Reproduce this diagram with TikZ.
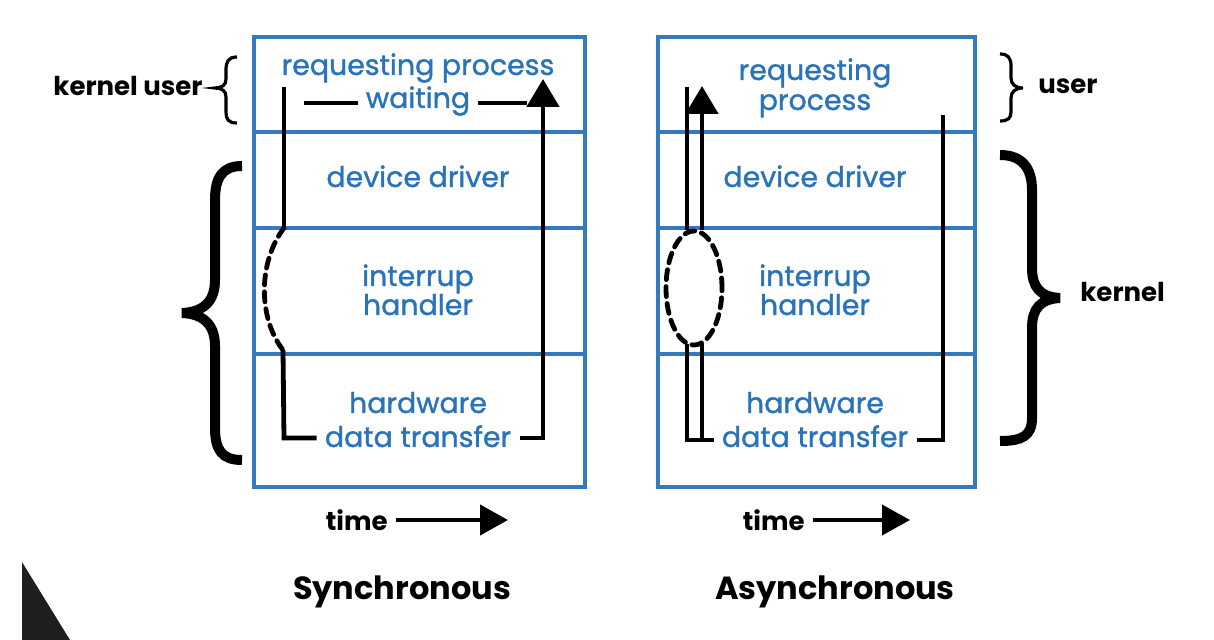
\documentclass[tikz,border=0pt]{standalone}
\usepackage{fontspec}
\setmainfont{Poppins}
\newfontfamily\bluefont{Poppins}[FakeBold=1.2]
\usetikzlibrary{arrows.meta}
\definecolor{boxblue}{RGB}{52,122,190}
\definecolor{txtblue}{RGB}{40,115,185}
\begin{document}
\begin{tikzpicture}[x=0.5pt,y=-0.5pt,
  cell/.style={draw=boxblue, line width=2pt, inner sep=0pt, anchor=north west, minimum width=#1},
  btext/.style={text=txtblue, font=\bluefont\fontsize{14.2}{16}\selectfont, anchor=base, inner xsep=4pt, inner ysep=0pt},
  lbl/.style={text=black, font=\fontsize{13}{15}\selectfont\bfseries, inner sep=0pt},
  title/.style={text=black, font=\fontsize{16}{18}\selectfont\bfseries, inner sep=0pt},
  flow/.style={line width=2.4pt, line cap=butt, line join=miter},
  dflow/.style={line width=2.4pt, dash pattern=on 5pt off 3.5pt, line cap=round},
  bigarrow/.style={flow, -{Triangle[width=16pt,length=14pt]}},
  timearrow/.style={line width=2pt, -{Triangle[width=15pt,length=14pt]}},
  brace/.style={line width=#1, line cap=butt}
]
\useasboundingbox (0,0) rectangle (1214,640);

% ---------------- Synchronous box ----------------
\node[cell=165.5pt, minimum height=47.5pt] (s1) at (252,35) {};
\node[cell=165.5pt, minimum height=48pt]   (s2) at (252,130) {};
\node[cell=165.5pt, minimum height=63pt]   (s3) at (252,226) {};
\node[cell=165.5pt, minimum height=66.5pt] (s4) at (252,352) {};

\node[btext] (sreq)  at (418,75)  {requesting process};
\node[btext] (swait) at (418,108) {waiting};
\node[btext] (sdev)  at (418,187) {device driver};
\node[btext] (sint)  at (418,286) {interrup};
\node[btext] (shan)  at (418,315) {handler};
\node[btext] (shw)   at (418,413) {hardware};
\node[btext] (sdt)   at (418,447) {data transfer};

\coordinate (sa) at (284,87);
\coordinate (sb) at (284,228);
\coordinate (sc) at (283,350);
\coordinate (sd) at (284,438);
\coordinate (se) at (543,438);
\coordinate (sf) at (543,79);
\coordinate (swl) at (304,103);
\coordinate (swr) at (527,103);

\draw[flow] (sa) -- (sb);
\draw[dflow] (sb) .. controls (258,262) and (258,318) .. (sc);
\draw[flow] (sc) -- (sd) -- (sd -| sdt.west);
\draw[bigarrow] (sdt.east |- se) -- (se) -- (sf);
\draw[flow] (swl) -- (swait.west |- swl);
\draw[flow] (swait.east |- swr) -- (swr);

% ---------------- Asynchronous box ----------------
\node[cell=158.5pt, minimum height=47.5pt] (a1) at (656,35) {};
\node[cell=158.5pt, minimum height=48pt]   (a2) at (656,130) {};
\node[cell=158.5pt, minimum height=63pt]   (a3) at (656,226) {};
\node[cell=158.5pt, minimum height=66.5pt] (a4) at (656,352) {};

\node[btext] (areq)  at (815,80)  {requesting};
\node[btext] (aproc) at (815,110) {process};
\node[btext] (adev)  at (815,187) {device driver};
\node[btext] (aint)  at (815,286) {interrup};
\node[btext] (ahan)  at (815,315) {handler};
\node[btext] (ahw)   at (815,413) {hardware};
\node[btext] (adt)   at (815,447) {data transfer};

\coordinate (aa) at (687,87);
\coordinate (ab) at (687,230);
\coordinate (ac) at (687,344);
\coordinate (ad) at (687,440);
\coordinate (ae) at (702,344);
\coordinate (af) at (702,440);
\coordinate (ag) at (702,230);
\coordinate (ah) at (702,86);
\coordinate (ai) at (943,440);
\coordinate (aj) at (943,115);
\coordinate (aell) at (694,288);

\draw[flow] (aa) -- (ab);
\draw[dflow] (aell) ellipse [x radius=14pt, y radius=28.5pt];
\draw[flow] (ac) -- (ad) -- (ad -| adt.west);
\draw[flow] (ae) -- (af);
\draw[bigarrow] (ag) -- (ah);
\draw[flow] (adt.east |- ai) -- (ai) -- (aj);

% ---------------- Braces and labels ----------------
\node[lbl, anchor=east] (lku) at (203,86) {kernel user};
\draw[brace=1.6pt] (237,57) .. controls (228,57) and (226,62) .. (226,70) -- (226,79)
  .. controls (226,85) and (222,88) .. (215,88) .. controls (222,88) and (226,91) .. (226,97)
  -- (226,112) .. controls (226,119) and (228,123) .. (237,123);

\draw[brace=5pt] (242,166) .. controls (222,166) and (215,178) .. (215,200) -- (215,280)
  .. controls (215,300) and (205,312) .. (182,313) .. controls (205,314) and (215,326) .. (215,346)
  -- (215,428) .. controls (215,450) and (222,460) .. (242,460);

\draw[brace=1.6pt] (1000,54) .. controls (1008,54) and (1011,58) .. (1011,66) -- (1011,78)
  .. controls (1011,84) and (1015,88) .. (1023,88) .. controls (1015,88) and (1011,92) .. (1011,98)
  -- (1011,112) .. controls (1011,118) and (1008,121) .. (1000,121);
\node[lbl, anchor=west] (luser) at (1038,86) {user};

\draw[brace=5pt] (1000,155) .. controls (1022,155) and (1032,168) .. (1032,190) -- (1032,268)
  .. controls (1032,287) and (1040,297) .. (1060,298) .. controls (1040,299) and (1032,309) .. (1032,328)
  -- (1032,418) .. controls (1032,436) and (1022,441) .. (1000,441);
\node[lbl, anchor=west] (lkern) at (1080,292) {kernel};

% ---------------- Time arrows and titles ----------------
\node[lbl, anchor=east] (st) at (388,520) {time};
\coordinate (stend) at (508,520);
\draw[timearrow] ([xshift=4pt]st.east) -- (stend);
\node[lbl, anchor=east] (at) at (805,520) {time};
\coordinate (atend) at (910,520);
\draw[timearrow] ([xshift=4pt]at.east) -- (atend);

\node[title] (tsync)  at (402,592) {Synchronous};
\node[title] (tasync) at (835,592) {Asynchronous};

% corner wedge
\fill[black!88] (22,562) -- (70,640) -- (22,640) -- cycle;
\end{tikzpicture}
\end{document}
